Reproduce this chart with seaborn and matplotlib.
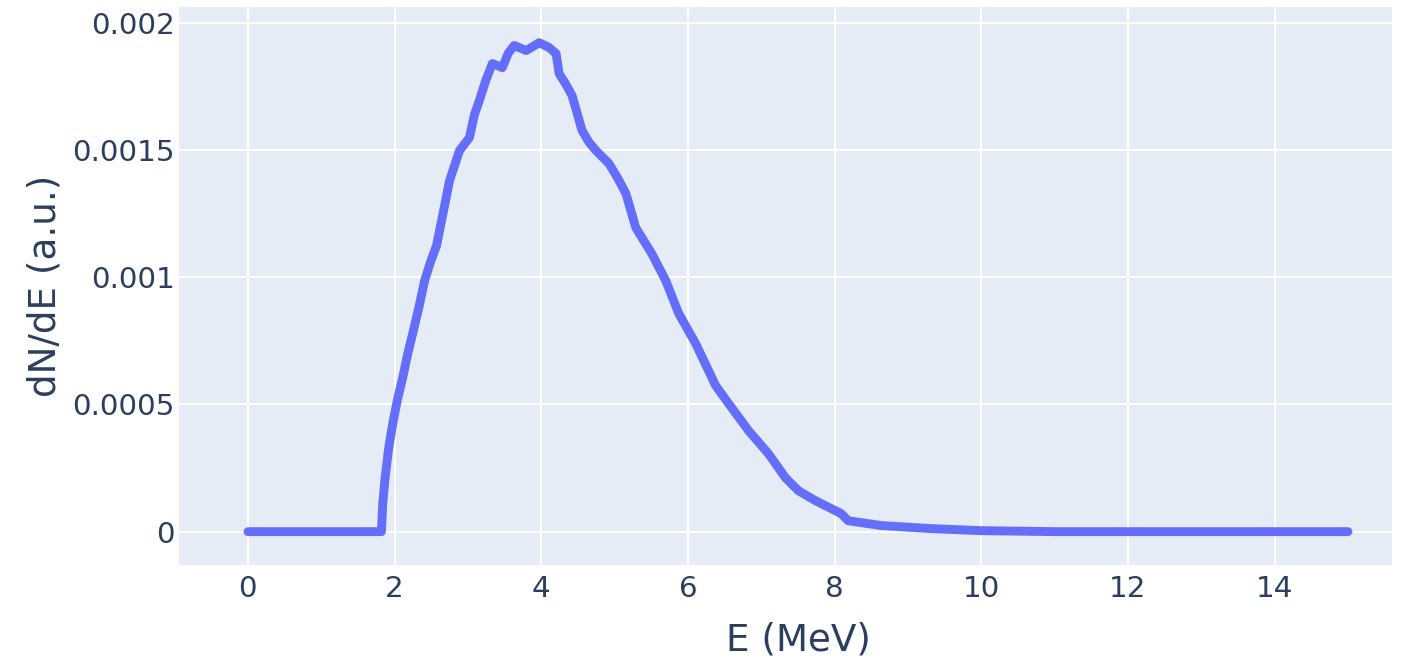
import matplotlib
matplotlib.use("Agg")
import matplotlib.pyplot as plt
import seaborn as sns
import pandas as pd
from matplotlib.ticker import FixedLocator, FixedFormatter

# Data
energy = [0.0, 0.5, 1.0, 1.5, 1.82, 1.838, 1.87, 1.92, 1.974, 2.04, 2.110, 2.18,
          2.246, 2.33, 2.409, 2.49, 2.572, 2.66, 2.749, 2.885, 3.020, 3.09, 3.156,
          3.24, 3.333, 3.469, 3.55, 3.632, 3.795, 3.971, 4.107, 4.202, 4.243,
          4.33, 4.420, 4.556, 4.65, 4.746, 4.923, 5.04, 5.154, 5.289, 5.507,
          5.697, 5.874, 6.105, 6.377, 6.595, 6.826, 7.098, 7.329, 7.505, 7.736,
          8.090, 8.185, 8.633, 9.313, 9.992, 10.5, 11.0, 12.0, 13.0, 14.0, 15.0]
dnde = [0.0, 0.0, 0.0, 0.0, 0.0, 0.110e-3, 0.210e-3, 0.330e-3, 0.424e-3, 0.520e-3,
        0.605e-3, 0.700e-3, 0.778e-3, 0.880e-3, 0.986e-3, 1.060e-3, 1.124e-3,
        1.250e-3, 1.379e-3, 1.497e-3, 1.548e-3, 1.640e-3, 1.694e-3, 1.770e-3,
        1.839e-3, 1.823e-3, 1.880e-3, 1.910e-3, 1.890e-3, 1.921e-3, 1.902e-3,
        1.878e-3, 1.800e-3, 1.760e-3, 1.713e-3, 1.576e-3, 1.530e-3, 1.497e-3,
        1.446e-3, 1.390e-3, 1.328e-3, 1.194e-3, 1.092e-3, 0.986e-3, 0.857e-3,
        0.739e-3, 0.574e-3, 0.487e-3, 0.397e-3, 0.306e-3, 0.212e-3, 0.161e-3,
        0.122e-3, 0.071e-3, 0.043e-3, 0.024e-3, 0.012e-3, 0.004e-3, 0.002e-3,
        0.0, 0.0, 0.0, 0.0, 0.0]

x_ticks = [0, 2, 4, 6, 8, 10, 12, 14]
x_tick_labels = ["0", "2", "4", "6", "8", "10", "12", "14"]
y_ticks = [0, 0.0005, 0.001, 0.0015, 0.002]
y_tick_labels = ["0", "0.0005", "0.001", "0.0015", "0.002"]

df = pd.DataFrame({"E": energy, "dNdE": dnde})

sns.set_theme(style="darkgrid")
plt.rcParams["font.family"] = ["DejaVu Sans"]

text_color = "#2a3f5f"
fig = plt.figure(figsize=(14.04, 6.6), dpi=100)
ax = fig.add_axes([179 / 1404, 1 - 565 / 660, (1392 - 179) / 1404, (565 - 7.3) / 660])
ax.set_facecolor("#e5ecf6")

sns.lineplot(data=df, x="E", y="dNdE", ax=ax, color="#636efa", linewidth=6.4,
             solid_capstyle="round", solid_joinstyle="round")

ax.set_xlim(-0.94, 15.6)
ax.set_ylim(-0.131e-3, 2.060e-3)

ax.xaxis.set_major_locator(FixedLocator(x_ticks))
ax.xaxis.set_major_formatter(FixedFormatter(x_tick_labels))
ax.yaxis.set_major_locator(FixedLocator(y_ticks))
ax.yaxis.set_major_formatter(FixedFormatter(y_tick_labels))

ax.grid(True, color="white", linewidth=1.5)
ax.set_axisbelow(True)
for s in ax.spines.values():
    s.set_visible(False)

ax.tick_params(axis="both", length=0, labelsize=21.2, labelcolor=text_color)
ax.tick_params(axis="x", pad=7)
ax.tick_params(axis="y", pad=3)

ax.set_xlabel("E (MeV)", fontsize=26.8, color=text_color)
ax.set_ylabel("dN/dE (a.u.)", fontsize=26.8, color=text_color)
ax.xaxis.set_label_coords((798 - 179) / 1213, -0.102)
ax.yaxis.set_label_coords(-0.095, 0.5)

fig.savefig("out.png", dpi=100, facecolor="white")
